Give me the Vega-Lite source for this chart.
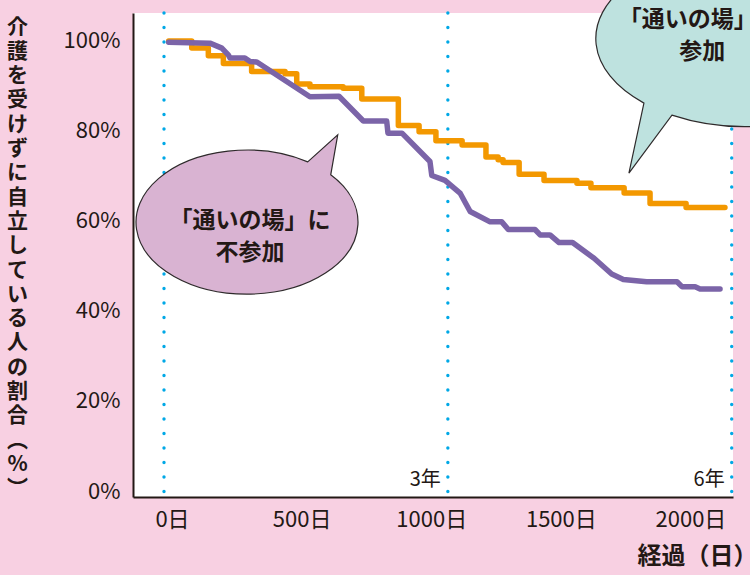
{
  "$schema": "https://vega.github.io/schema/vega-lite/v6.json",
  "width": 600,
  "height": 484,
  "autosize": {"type": "none"},
  "padding": {"left": 133, "top": 13, "right": 17, "bottom": 78},
  "background": "#F8D0E2",
  "config": {
    "view": {"fill": "#FFFFFF", "stroke": null},
    "font": "Noto Sans CJK JP",
    "text": {"font": "Noto Sans CJK JP"}
  },
  "layer": [
    {
      "data": {"values": [{"day": 0}, {"day": 1095}, {"day": 2190}]},
      "mark": {"type": "rule", "color": "#00A8E6", "strokeWidth": 3.4, "strokeDash": [0.1, 14.4], "strokeCap": "round"},
      "encoding": {
        "x": {
          "field": "day", "type": "quantitative",
          "scale": {"domain": [-119.6, 2195], "nice": false, "zero": false},
          "axis": {
            "values": [0, 500, 1000, 1500, 2000],
            "labelExpr": "datum.value + '日'",
            "grid": false, "ticks": false,
            "domainColor": "#231815", "domainWidth": 2,
            "labelFontSize": 22, "labelColor": "#231815", "labelPadding": 12, "labelOffset": 8,
            "labelFlush": false,
            "title": "経過（日）",
            "titleFontSize": 24, "titleFontWeight": "bold", "titleColor": "#231815",
            "titleAnchor": null, "titleAlign": "right", "titleBaseline": "middle",
            "titleX": 624, "titleY": 59
          }
        }
      }
    },
    {
      "data": {"values": [
        {"day": 18, "pct": 100}, {"day": 107, "pct": 98.4}, {"day": 171, "pct": 96.7}, {"day": 229, "pct": 95.0},
        {"day": 338, "pct": 93.2}, {"day": 467, "pct": 92.7}, {"day": 512, "pct": 90.4}, {"day": 563, "pct": 89.8},
        {"day": 691, "pct": 89.5}, {"day": 763, "pct": 87.1}, {"day": 904, "pct": 81.2}, {"day": 984, "pct": 79.8},
        {"day": 1049, "pct": 77.8}, {"day": 1150, "pct": 76.9}, {"day": 1242, "pct": 74.2}, {"day": 1289, "pct": 73.6},
        {"day": 1308, "pct": 73.0}, {"day": 1370, "pct": 70.4}, {"day": 1466, "pct": 69.0}, {"day": 1593, "pct": 68.4},
        {"day": 1647, "pct": 67.4}, {"day": 1775, "pct": 66.2}, {"day": 1875, "pct": 63.9}, {"day": 2014, "pct": 63.0},
        {"day": 2164, "pct": 63.0}
      ]},
      "mark": {"type": "line", "interpolate": "step-after", "color": "#F39800", "strokeWidth": 5.5, "strokeCap": "round", "strokeJoin": "round"},
      "encoding": {
        "x": {"field": "day", "type": "quantitative"},
        "y": {
          "field": "pct", "type": "quantitative",
          "scale": {"domain": [-1.33, 106.2], "nice": false, "zero": false},
          "axis": {
            "values": [0, 20, 40, 60, 80, 100],
            "labelExpr": "datum.value + '%'",
            "grid": false, "ticks": false,
            "domainColor": "#231815", "domainWidth": 2,
            "labelFontSize": 22, "labelColor": "#231815", "labelPadding": 13,
            "labelFlush": false,
            "title": ["介","護","を","受","け","ず","に","自","立","し","て","い","る","人","の","割","合","︵","%","︶"],
            "titleFontSize": 21, "titleFontWeight": "bold", "titleColor": "#231815",
            "titleAngle": 0, "titleAnchor": null, "titleAlign": "center", "titleBaseline": "top",
            "titleLineHeight": 24.3, "titleX": -116, "titleY": 3
          }
        }
      }
    },
    {
      "data": {"values": [
        {"day": 18, "pct": 99.7}, {"day": 177, "pct": 99.5}, {"day": 223, "pct": 98.4}, {"day": 248, "pct": 96.9},
        {"day": 255, "pct": 96.2}, {"day": 312, "pct": 96.2}, {"day": 332, "pct": 95.4}, {"day": 358, "pct": 95.3},
        {"day": 563, "pct": 87.6}, {"day": 675, "pct": 87.7}, {"day": 769, "pct": 82.2}, {"day": 859, "pct": 82.2},
        {"day": 864, "pct": 79.5}, {"day": 918, "pct": 79.5}, {"day": 1026, "pct": 73.2}, {"day": 1033, "pct": 70.1},
        {"day": 1084, "pct": 69.0}, {"day": 1142, "pct": 66.2}, {"day": 1181, "pct": 62.1}, {"day": 1258, "pct": 59.8},
        {"day": 1303, "pct": 59.8}, {"day": 1328, "pct": 58.1}, {"day": 1431, "pct": 58.1}, {"day": 1451, "pct": 56.9},
        {"day": 1489, "pct": 56.9}, {"day": 1524, "pct": 55.2}, {"day": 1576, "pct": 55.2}, {"day": 1659, "pct": 51.7},
        {"day": 1727, "pct": 48.2}, {"day": 1772, "pct": 47.0}, {"day": 1862, "pct": 46.5}, {"day": 1979, "pct": 46.5},
        {"day": 1998, "pct": 45.4}, {"day": 2049, "pct": 45.4}, {"day": 2068, "pct": 44.9}, {"day": 2145, "pct": 44.9}
      ]},
      "mark": {"type": "line", "interpolate": "linear", "color": "#7B64A8", "strokeWidth": 5.5, "strokeCap": "round", "strokeJoin": "round"},
      "encoding": {
        "x": {"field": "day", "type": "quantitative"},
        "y": {"field": "pct", "type": "quantitative"}
      }
    },
    {
      "data": {"values": [{"day": 350, "pct": 59.8}]},
      "mark": {
        "type": "point", "filled": true, "opacity": 1, "fill": "#D9B3D2", "stroke": "#2E2A2B", "strokeWidth": 1.2,
        "size": 40000,
        "shape": "M0.76,-0.47 A1.11,0.72 0 1 1 0.53,-0.60 L0.83,-0.87 Z"
      },
      "encoding": {
        "x": {"field": "day", "type": "quantitative"},
        "y": {"field": "pct", "type": "quantitative"}
      }
    },
    {
      "data": {"values": [{"day": 2160, "pct": 102.4}]},
      "mark": {
        "type": "point", "filled": true, "opacity": 1, "fill": "#BEE2DF", "stroke": "#2E2A2B", "strokeWidth": 1.2,
        "size": 40000, "clip": false,
        "shape": "M-0.52,0.85 A1.5,0.88 0 1 0 -0.80,0.73 L-0.95,1.43 Z"
      },
      "encoding": {
        "x": {"field": "day", "type": "quantitative"},
        "y": {"field": "pct", "type": "quantitative"}
      }
    },
    {
      "data": {"values": [
        {"day": 332, "pct": 59.9, "label": "「通いの場」に\n不参加"},
        {"day": 2020, "pct": 104.7, "label": "「通いの場」"},
        {"day": 2076, "pct": 97.6, "label": "参加"}
      ]},
      "mark": {"type": "text", "fontSize": 23, "fontWeight": "bold", "color": "#231815", "align": "center", "baseline": "middle", "lineBreak": "\n", "lineHeight": 32},
      "encoding": {
        "x": {"field": "day", "type": "quantitative"},
        "y": {"field": "pct", "type": "quantitative"},
        "text": {"field": "label"}
      }
    },
    {
      "data": {"values": [{"day": 1095, "label": "3年"}, {"day": 2190, "label": "6年"}]},
      "mark": {"type": "text", "fontSize": 20, "color": "#231815", "align": "right", "baseline": "middle", "dx": -7},
      "encoding": {
        "x": {"field": "day", "type": "quantitative"},
        "y": {"datum": 2.4},
        "text": {"field": "label"}
      }
    }
  ]
}
